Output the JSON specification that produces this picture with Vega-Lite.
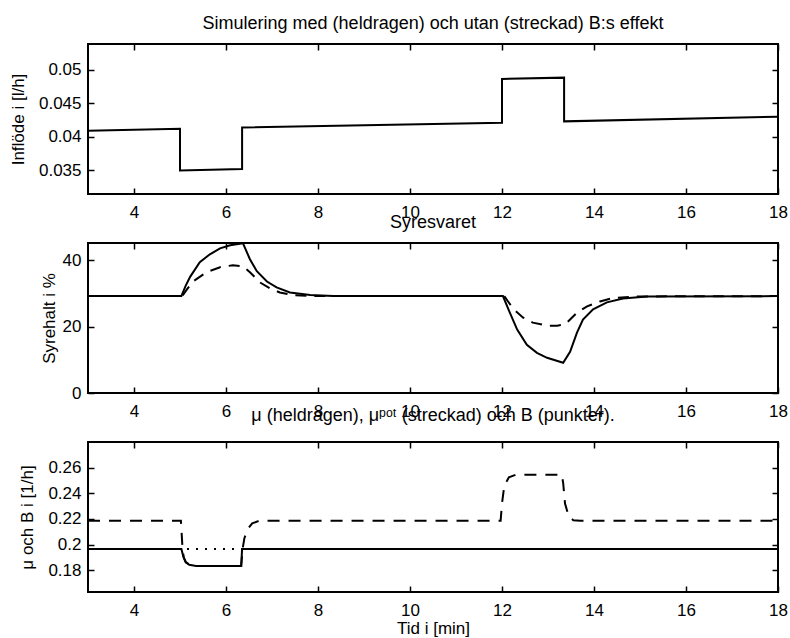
{
  "$schema": "https://vega.github.io/schema/vega-lite/v6.json",
  "padding": {"left": 8, "top": 14, "right": 0, "bottom": 0},
  "background": "white",
  "spacing": 49,
  "bounds": "flush",
  "config": {
    "font": "Liberation Sans",
    "view": {"stroke": "black", "strokeWidth": 2},
    "axis": {
      "domain": false, "grid": false, "tickColor": "black", "tickSize": -6, "tickWidth": 1.5,
      "labelFontSize": 17, "labelColor": "black", "labelFont": "Liberation Sans", "labelFlush": false,
      "titleFontSize": 17, "titleFontWeight": "normal", "titleColor": "black", "titleFont": "Liberation Sans"
    },
    "title": {"fontSize": 18, "fontWeight": "normal", "color": "black", "font": "Liberation Sans", "frame": "group", "baseline": "bottom"}
  },
  "datasets": {
    "inflow": [
      {"i": 1, "t": 3, "v": 0.0409},
      {"i": 2, "t": 5.0, "v": 0.0412},
      {"i": 3, "t": 5.0, "v": 0.0350},
      {"i": 4, "t": 6.35, "v": 0.0352},
      {"i": 5, "t": 6.35, "v": 0.0414},
      {"i": 6, "t": 12.0, "v": 0.0421},
      {"i": 7, "t": 12.0, "v": 0.0486},
      {"i": 8, "t": 13.35, "v": 0.0488},
      {"i": 9, "t": 13.35, "v": 0.0423},
      {"i": 10, "t": 18, "v": 0.0430}
    ],
    "oxygen": [
      {"s": "heldragen", "i": 1, "t": 3, "v": 29.2},
      {"s": "heldragen", "i": 2, "t": 5.03, "v": 29.2},
      {"s": "heldragen", "i": 3, "t": 5.12, "v": 32.2},
      {"s": "heldragen", "i": 4, "t": 5.22, "v": 35},
      {"s": "heldragen", "i": 5, "t": 5.43, "v": 39.4},
      {"s": "heldragen", "i": 6, "t": 5.65, "v": 41.8},
      {"s": "heldragen", "i": 7, "t": 5.87, "v": 43.6},
      {"s": "heldragen", "i": 8, "t": 6.09, "v": 44.5},
      {"s": "heldragen", "i": 9, "t": 6.37, "v": 45.1},
      {"s": "heldragen", "i": 10, "t": 6.52, "v": 40.3},
      {"s": "heldragen", "i": 11, "t": 6.67, "v": 36.7},
      {"s": "heldragen", "i": 12, "t": 6.89, "v": 33.6},
      {"s": "heldragen", "i": 13, "t": 7.1, "v": 31.8},
      {"s": "heldragen", "i": 14, "t": 7.39, "v": 30.3},
      {"s": "heldragen", "i": 15, "t": 7.83, "v": 29.5},
      {"s": "heldragen", "i": 16, "t": 8.33, "v": 29.2},
      {"s": "heldragen", "i": 17, "t": 12.02, "v": 29.2},
      {"s": "heldragen", "i": 18, "t": 12.17, "v": 24.2},
      {"s": "heldragen", "i": 19, "t": 12.33, "v": 19.1},
      {"s": "heldragen", "i": 20, "t": 12.54, "v": 14.5},
      {"s": "heldragen", "i": 21, "t": 12.76, "v": 12.1},
      {"s": "heldragen", "i": 22, "t": 12.98, "v": 10.6},
      {"s": "heldragen", "i": 23, "t": 13.33, "v": 9.1},
      {"s": "heldragen", "i": 24, "t": 13.48, "v": 12.4},
      {"s": "heldragen", "i": 25, "t": 13.63, "v": 18.2},
      {"s": "heldragen", "i": 26, "t": 13.76, "v": 22.1},
      {"s": "heldragen", "i": 27, "t": 13.98, "v": 25.2},
      {"s": "heldragen", "i": 28, "t": 14.28, "v": 27.3},
      {"s": "heldragen", "i": 29, "t": 14.63, "v": 28.5},
      {"s": "heldragen", "i": 30, "t": 15.15, "v": 29.1},
      {"s": "heldragen", "i": 31, "t": 18, "v": 29.2},
      {"s": "streckad", "i": 1, "t": 3, "v": 29.2},
      {"s": "streckad", "i": 2, "t": 5.05, "v": 29.2},
      {"s": "streckad", "i": 3, "t": 5.15, "v": 31.2},
      {"s": "streckad", "i": 4, "t": 5.28, "v": 33.6},
      {"s": "streckad", "i": 5, "t": 5.58, "v": 36.4},
      {"s": "streckad", "i": 6, "t": 5.87, "v": 37.9},
      {"s": "streckad", "i": 7, "t": 6.15, "v": 38.5},
      {"s": "streckad", "i": 8, "t": 6.37, "v": 38.2},
      {"s": "streckad", "i": 9, "t": 6.52, "v": 36.4},
      {"s": "streckad", "i": 10, "t": 6.74, "v": 33.3},
      {"s": "streckad", "i": 11, "t": 6.96, "v": 31.5},
      {"s": "streckad", "i": 12, "t": 7.17, "v": 30.3},
      {"s": "streckad", "i": 13, "t": 7.46, "v": 29.5},
      {"s": "streckad", "i": 14, "t": 7.9, "v": 29.2},
      {"s": "streckad", "i": 15, "t": 12.05, "v": 29.2},
      {"s": "streckad", "i": 16, "t": 12.12, "v": 27.8},
      {"s": "streckad", "i": 17, "t": 12.25, "v": 25.3},
      {"s": "streckad", "i": 18, "t": 12.46, "v": 22.7},
      {"s": "streckad", "i": 19, "t": 12.67, "v": 21.2},
      {"s": "streckad", "i": 20, "t": 12.98, "v": 20.3},
      {"s": "streckad", "i": 21, "t": 13.2, "v": 20.3},
      {"s": "streckad", "i": 22, "t": 13.35, "v": 20.6},
      {"s": "streckad", "i": 23, "t": 13.41, "v": 21.2},
      {"s": "streckad", "i": 24, "t": 13.63, "v": 24.2},
      {"s": "streckad", "i": 25, "t": 13.85, "v": 26.1},
      {"s": "streckad", "i": 26, "t": 14.13, "v": 27.6},
      {"s": "streckad", "i": 27, "t": 14.41, "v": 28.6},
      {"s": "streckad", "i": 28, "t": 15, "v": 29.1},
      {"s": "streckad", "i": 29, "t": 18, "v": 29.2}
    ],
    "growth": [
      {"s": "B", "i": 1, "t": 3, "v": 0.1965},
      {"s": "B", "i": 2, "t": 18, "v": 0.1965},
      {"s": "mu", "i": 1, "t": 3, "v": 0.1965},
      {"s": "mu", "i": 2, "t": 5.03, "v": 0.1965},
      {"s": "mu", "i": 3, "t": 5.07, "v": 0.191},
      {"s": "mu", "i": 4, "t": 5.12, "v": 0.1865},
      {"s": "mu", "i": 5, "t": 5.2, "v": 0.1842},
      {"s": "mu", "i": 6, "t": 5.35, "v": 0.1832},
      {"s": "mu", "i": 7, "t": 6.33, "v": 0.1832},
      {"s": "mu", "i": 8, "t": 6.35, "v": 0.1965},
      {"s": "mu", "i": 9, "t": 18, "v": 0.1965},
      {"s": "mupot", "i": 1, "t": 3, "v": 0.2185},
      {"s": "mupot", "i": 2, "t": 5.02, "v": 0.2185},
      {"s": "mupot", "i": 3, "t": 5.05, "v": 0.2},
      {"s": "mupot", "i": 4, "t": 5.08, "v": 0.19},
      {"s": "mupot", "i": 5, "t": 5.13, "v": 0.186},
      {"s": "mupot", "i": 6, "t": 5.22, "v": 0.1842},
      {"s": "mupot", "i": 7, "t": 5.35, "v": 0.1832},
      {"s": "mupot", "i": 8, "t": 6.33, "v": 0.1832},
      {"s": "mupot", "i": 9, "t": 6.36, "v": 0.1965},
      {"s": "mupot", "i": 10, "t": 6.4, "v": 0.205},
      {"s": "mupot", "i": 11, "t": 6.47, "v": 0.212},
      {"s": "mupot", "i": 12, "t": 6.57, "v": 0.2165},
      {"s": "mupot", "i": 13, "t": 6.72, "v": 0.2185},
      {"s": "mupot", "i": 14, "t": 11.97, "v": 0.2185},
      {"s": "mupot", "i": 15, "t": 12.0, "v": 0.232},
      {"s": "mupot", "i": 16, "t": 12.05, "v": 0.246},
      {"s": "mupot", "i": 17, "t": 12.15, "v": 0.2525},
      {"s": "mupot", "i": 18, "t": 12.3, "v": 0.2545},
      {"s": "mupot", "i": 19, "t": 13.3, "v": 0.2545},
      {"s": "mupot", "i": 20, "t": 13.33, "v": 0.248},
      {"s": "mupot", "i": 21, "t": 13.37, "v": 0.232},
      {"s": "mupot", "i": 22, "t": 13.45, "v": 0.222},
      {"s": "mupot", "i": 23, "t": 13.55, "v": 0.219},
      {"s": "mupot", "i": 24, "t": 13.7, "v": 0.2185},
      {"s": "mupot", "i": 25, "t": 18, "v": 0.2185}
    ]
  },
  "vconcat": [
    {
      "width": 690, "height": 150,
      "title": {"text": "Simulering med (heldragen) och utan (streckad) B:s effekt", "offset": 10},
      "data": {"name": "inflow"},
      "layer": [
        {
          "mark": {"type": "line", "color": "black", "strokeWidth": 2},
          "encoding": {
            "x": {"field": "t", "type": "quantitative", "scale": {"domain": [3, 18], "nice": false},
                  "axis": {"values": [4, 6, 8, 10, 12, 14, 16, 18], "title": null, "labelPadding": 16}},
            "y": {"field": "v", "type": "quantitative", "scale": {"domain": [0.0315, 0.0538], "nice": false, "zero": false},
                  "axis": {"values": [0.035, 0.04, 0.045, 0.05], "format": "~r", "title": "Inflöde i [l/h]", "labelPadding": 13, "titlePadding": 11}},
            "order": {"field": "i", "type": "quantitative"}
          }
        },
        {
          "mark": {"type": "line", "opacity": 0},
          "encoding": {
            "x": {"field": "t", "type": "quantitative", "axis": {"orient": "top", "values": [4, 6, 8, 10, 12, 14, 16, 18], "labels": false, "title": null}},
            "y": {"field": "v", "type": "quantitative", "axis": {"orient": "right", "values": [0.035, 0.04, 0.045, 0.05], "labels": false, "title": null}},
            "order": {"field": "i", "type": "quantitative"}
          }
        }
      ],
      "resolve": {"axis": {"x": "independent", "y": "independent"}}
    },
    {
      "width": 690, "height": 150,
      "title": {"text": "Syresvaret", "offset": 7},
      "data": {"name": "oxygen"},
      "layer": [
        {
          "transform": [{"filter": "datum.s === 'streckad'"}],
          "mark": {"type": "line", "color": "black", "strokeWidth": 2, "strokeDash": [11, 8]},
          "encoding": {
            "x": {"field": "t", "type": "quantitative", "scale": {"domain": [3, 18], "nice": false},
                  "axis": {"values": [4, 6, 8, 10, 12, 14, 16, 18], "title": null, "labelPadding": 16}},
            "y": {"field": "v", "type": "quantitative", "scale": {"domain": [0, 45.2], "nice": false},
                  "axis": {"values": [0, 20, 40], "format": "~r", "title": "Syrehalt i %", "labelPadding": 13, "titlePadding": 4}},
            "order": {"field": "i", "type": "quantitative"}
          }
        },
        {
          "transform": [{"filter": "datum.s === 'heldragen'"}],
          "mark": {"type": "line", "color": "black", "strokeWidth": 2},
          "encoding": {
            "x": {"field": "t", "type": "quantitative", "axis": {"orient": "top", "values": [4, 6, 8, 10, 12, 14, 16, 18], "labels": false, "title": null}},
            "y": {"field": "v", "type": "quantitative", "axis": {"orient": "right", "values": [0, 20, 40], "labels": false, "title": null}},
            "order": {"field": "i", "type": "quantitative"}
          }
        }
      ],
      "resolve": {"axis": {"x": "independent", "y": "independent"}}
    },
    {
      "width": 690, "height": 150,
      "title": {"text": "μ (heldragen), μᵖᵒᵗ (streckad) och B (punkter).", "offset": 16},
      "data": {"name": "growth"},
      "layer": [
        {
          "transform": [{"filter": "datum.s === 'B'"}],
          "mark": {"type": "line", "color": "black", "strokeWidth": 2, "strokeDash": [2, 7]},
          "encoding": {
            "x": {"field": "t", "type": "quantitative", "scale": {"domain": [3, 18], "nice": false},
                  "axis": {"values": [4, 6, 8, 10, 12, 14, 16, 18], "title": "Tid i [min]", "labelPadding": 16, "titlePadding": 2}},
            "y": {"field": "v", "type": "quantitative", "scale": {"domain": [0.163, 0.28], "nice": false, "zero": false},
                  "axis": {"values": [0.18, 0.2, 0.22, 0.24, 0.26], "format": "~r", "title": "μ och B i [1/h]", "labelPadding": 13, "titlePadding": 11}},
            "order": {"field": "i", "type": "quantitative"}
          }
        },
        {
          "transform": [{"filter": "datum.s === 'mupot'"}],
          "mark": {"type": "line", "color": "black", "strokeWidth": 2, "strokeDash": [12, 9]},
          "encoding": {
            "x": {"field": "t", "type": "quantitative", "axis": {"orient": "top", "values": [4, 6, 8, 10, 12, 14, 16, 18], "labels": false, "title": null}},
            "y": {"field": "v", "type": "quantitative", "axis": {"orient": "right", "values": [0.18, 0.2, 0.22, 0.24, 0.26], "labels": false, "title": null}},
            "order": {"field": "i", "type": "quantitative"}
          }
        },
        {
          "transform": [{"filter": "datum.s === 'mu'"}],
          "mark": {"type": "line", "color": "black", "strokeWidth": 2},
          "encoding": {
            "x": {"field": "t", "type": "quantitative", "axis": null},
            "y": {"field": "v", "type": "quantitative", "axis": null},
            "order": {"field": "i", "type": "quantitative"}
          }
        }
      ],
      "resolve": {"axis": {"x": "independent", "y": "independent"}}
    }
  ]
}
